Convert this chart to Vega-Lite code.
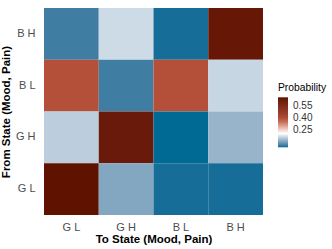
{
  "$schema": "https://vega.github.io/schema/vega-lite/v6.json",
  "autosize": {"type": "none"},
  "padding": {"left": 44, "top": 8, "right": 69, "bottom": 34},
  "width": 219,
  "height": 207,
  "background": "white",
  "data": {"values": [
    {"from": "B H", "to": "G L", "p": 0.05},
    {"from": "B H", "to": "G H", "p": 0.16},
    {"from": "B H", "to": "B L", "p": 0.03},
    {"from": "B H", "to": "B H", "p": 0.637},
    {"from": "B L", "to": "G L", "p": 0.38},
    {"from": "B L", "to": "G H", "p": 0.05},
    {"from": "B L", "to": "B L", "p": 0.38},
    {"from": "B L", "to": "B H", "p": 0.155},
    {"from": "G H", "to": "G L", "p": 0.146},
    {"from": "G H", "to": "G H", "p": 0.625},
    {"from": "G H", "to": "B L", "p": 0.025},
    {"from": "G H", "to": "B H", "p": 0.116},
    {"from": "G L", "to": "G L", "p": 0.66},
    {"from": "G L", "to": "G H", "p": 0.10},
    {"from": "G L", "to": "B L", "p": 0.03},
    {"from": "G L", "to": "B H", "p": 0.03}
  ]},
  "mark": {"type": "rect"},
  "encoding": {
    "x": {
      "field": "to", "type": "nominal",
      "sort": ["G L", "G H", "B L", "B H"],
      "scale": {"paddingInner": 0, "paddingOuter": 0},
      "axis": {
        "title": "To State (Mood, Pain)",
        "labelAngle": 0, "labelFont": "Liberation Sans", "labelFontSize": 11, "labelColor": "#4d4d4d",
        "labelPadding": 6, "ticks": false, "tickSize": 0, "domain": false, "grid": false,
        "titleFont": "Liberation Sans", "titleFontSize": 11.5, "titleFontWeight": "bold", "titleColor": "#000000",
        "titlePadding": 1
      }
    },
    "y": {
      "field": "from", "type": "nominal",
      "sort": ["B H", "B L", "G H", "G L"],
      "scale": {"paddingInner": 0, "paddingOuter": 0},
      "axis": {
        "title": "From State (Mood, Pain)",
        "labelFont": "Liberation Sans", "labelFontSize": 11, "labelColor": "#4d4d4d",
        "labelPadding": 9, "ticks": false, "tickSize": 0, "domain": false, "grid": false,
        "titleFont": "Liberation Sans", "titleFontSize": 11.5, "titleFontWeight": "bold", "titleColor": "#000000",
        "titlePadding": 4
      }
    },
    "color": {
      "field": "p", "type": "quantitative",
      "scale": {
        "domain": [0.025, 0.2, 0.38, 0.66],
        "range": ["#006994", "#ffffff", "#b4503a", "#5f1200"],
        "interpolate": "lab"
      },
      "legend": {
        "title": "Probability",
        "orient": "none", "legendX": 234, "legendY": 75,
        "values": [0.25, 0.4, 0.55], "format": ".2f",
        "gradientLength": 50, "gradientThickness": 10,
        "titleFont": "Liberation Sans", "titleFontSize": 10.3, "titleFontWeight": "normal", "titleColor": "#000000",
        "titlePadding": 4,
        "labelFont": "Liberation Sans", "labelFontSize": 10, "labelColor": "#333333", "labelOffset": 5,
        "tickCount": 3
      }
    }
  },
  "config": {"view": {"stroke": null}}
}
